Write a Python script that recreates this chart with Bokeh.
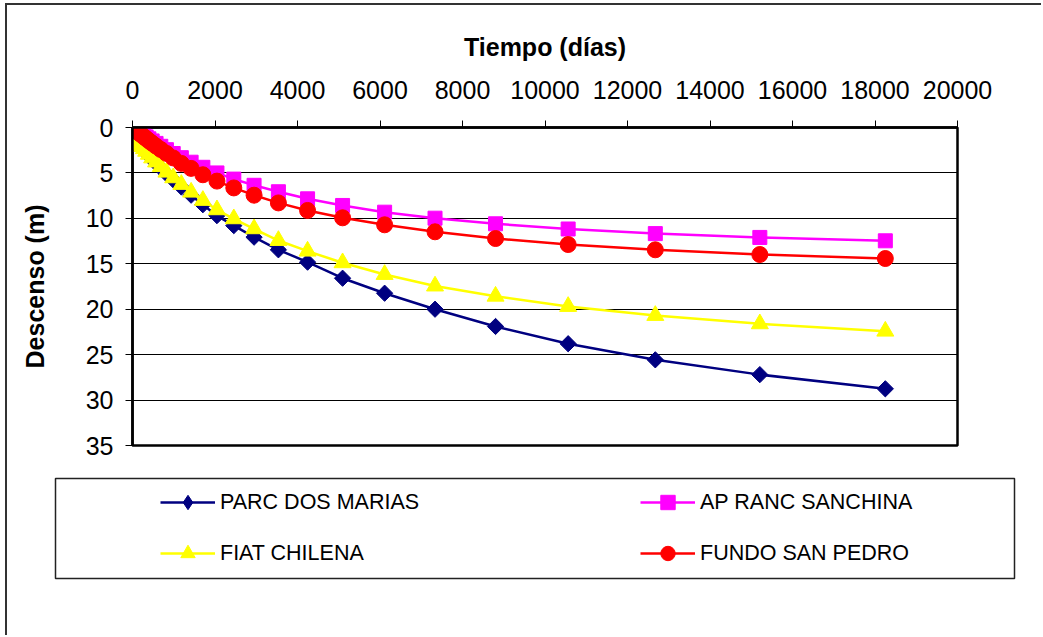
import numpy as np
from bokeh.plotting import figure
from bokeh.models import Range1d, FixedTicker, Legend, LegendItem
from bokeh.embed import file_html
from bokeh.resources import INLINE

# ---------------- data ----------------
tiempo = [5, 6, 7, 9, 10, 12, 15, 18, 21, 26, 31, 37, 45, 53, 64, 77, 92, 111, 133, 159,
          191, 230, 276, 331, 397, 476, 571, 686, 823, 987, 1184, 1421, 1706, 2047, 2456,
          2947, 3537, 4244, 5093, 6112, 7334, 8801, 10561, 12674, 15208, 18250]

parc_dos_marias = [1.30, 1.30, 1.30, 1.30, 1.31, 1.31, 1.32, 1.32, 1.33, 1.34, 1.35, 1.36,
                   1.38, 1.40, 1.43, 1.47, 1.52, 1.60, 1.69, 1.82, 1.98, 2.18, 2.43, 2.72,
                   3.06, 3.47, 3.94, 4.46, 5.10, 5.76, 6.55, 7.45, 8.50, 9.70, 10.80, 12.07,
                   13.46, 14.82, 16.59, 18.24, 20.00, 21.90, 23.80, 25.57, 27.20, 28.76]

ap_ranc_sanchina = [0.02, 0.02, 0.02, 0.02, 0.03, 0.03, 0.04, 0.05, 0.06, 0.08, 0.09, 0.11,
                    0.14, 0.16, 0.20, 0.24, 0.29, 0.35, 0.42, 0.50, 0.61, 0.73, 0.87, 1.04,
                    1.25, 1.48, 1.75, 2.07, 2.44, 2.86, 3.32, 3.82, 4.38, 5.00, 5.68, 6.36,
                    7.07, 7.85, 8.58, 9.32, 9.98, 10.60, 11.17, 11.68, 12.10, 12.47]

fiat_chilena = [1.25, 1.25, 1.25, 1.25, 1.26, 1.26, 1.27, 1.27, 1.28, 1.29, 1.30, 1.31,
                1.33, 1.35, 1.38, 1.42, 1.47, 1.54, 1.63, 1.75, 1.90, 2.10, 2.34, 2.62,
                2.95, 3.35, 3.80, 4.30, 4.92, 5.54, 6.27, 7.12, 8.03, 9.06, 10.05, 11.15,
                12.44, 13.61, 14.89, 16.18, 17.45, 18.57, 19.70, 20.69, 21.61, 22.42]

fundo_san_pedro = [0.02, 0.02, 0.02, 0.03, 0.03, 0.04, 0.05, 0.06, 0.07, 0.09, 0.11, 0.13,
                   0.16, 0.19, 0.23, 0.28, 0.34, 0.41, 0.49, 0.59, 0.71, 0.85, 1.02, 1.22,
                   1.46, 1.73, 2.05, 2.42, 2.85, 3.35, 3.95, 4.50, 5.20, 5.90, 6.65, 7.45,
                   8.30, 9.13, 9.94, 10.71, 11.48, 12.22, 12.88, 13.46, 13.98, 14.42]

series_names = ["PARC DOS MARIAS", "AP RANC SANCHINA", "FIAT CHILENA", "FUNDO SAN PEDRO"]
x_ticks = [0, 2000, 4000, 6000, 8000, 10000, 12000, 14000, 16000, 18000, 20000]
y_ticks = [0, 5, 10, 15, 20, 25, 30, 35]

# ---------------- layout constants ----------------
OX, OY = 7, 5            # content origin on the page (after outer frame)
W = 1043 - OX
H1 = 470 - OY
H2 = 637 - 470
FONT = "Liberation Sans"
FRAME = "2px solid #333333"

navy, mag, yel, red = "#000080", "#FF00FF", "#FFFF00", "#FF0000"
styles_ = [
    dict(color=navy, marker="square", angle=np.pi / 4, size=11.5),
    dict(color=mag, marker="square", angle=0.0, size=14),
    dict(color=yel, marker="triangle", angle=0.0, size=17),
    dict(color=red, marker="circle", angle=0.0, size=16),
]
series = [parc_dos_marias, ap_ranc_sanchina, fiat_chilena, fundo_san_pedro]

# ---------------- main chart ----------------
p = figure(width=W, height=H1,
           x_range=Range1d(0, 20000), y_range=Range1d(35, 0),
           x_axis_location="above",
           output_backend="svg", toolbar_location=None,
           min_border_left=132 - OX, min_border_right=W - (957 - OX),
           min_border_top=127 - OY, min_border_bottom=H1 - (445 - OY),
           styles={"border-top": FRAME, "border-left": FRAME,
                   "margin-top": "3px", "margin-left": "5px"})

p.background_fill_color = "white"
p.border_fill_color = "white"
p.outline_line_color = "black"
p.outline_line_width = 2.5

p.xgrid.visible = False
p.ygrid.ticker = FixedTicker(ticks=y_ticks)
p.ygrid.grid_line_color = "black"
p.ygrid.grid_line_width = 1

for ax, ticks in ((p.xaxis, x_ticks), (p.yaxis, y_ticks)):
    ax.ticker = FixedTicker(ticks=ticks)
    ax.major_tick_in = 0
    ax.major_tick_out = 7
    ax.minor_tick_line_color = None
    ax.major_tick_line_color = "black"
    ax.axis_line_color = "black"
    ax.axis_line_width = 2.5
    ax.major_label_text_font = FONT
    ax.major_label_text_font_size = "25px"
    ax.major_label_text_color = "black"
    ax.axis_label_text_font = FONT
    ax.axis_label_text_font_size = "25px"
    ax.axis_label_text_font_style = "bold"
    ax.axis_label_text_color = "black"

p.xaxis.axis_label = "Tiempo (días)"
p.xaxis.major_label_standoff = 22
p.xaxis.axis_label_standoff = 17
p.yaxis.axis_label = "Descenso (m)"
p.yaxis.major_label_standoff = 12
p.yaxis.axis_label_standoff = 34

for ys, st in zip(series, styles_):
    p.line(tiempo, ys, line_color=st["color"], line_width=2.5)
    p.scatter(tiempo, ys, marker=st["marker"], angle=st["angle"], size=st["size"],
              fill_color=st["color"], line_color=st["color"])

# ---------------- legend panel ----------------
p2 = figure(width=W, height=H2, x_range=Range1d(0, 1), y_range=Range1d(0, 1),
            x_axis_type=None, y_axis_type=None,
            output_backend="svg", toolbar_location=None,
            min_border_left=55 - OX, min_border_right=W - (1014 - OX),
            min_border_top=10, min_border_bottom=H2 - 110,
            styles={"border-left": FRAME, "margin-left": "5px"})
p2.grid.visible = False
p2.background_fill_color = "white"
p2.border_fill_color = "white"
p2.outline_line_color = "#222222"
p2.outline_line_width = 1.5

legend_marker = ["diamond", "square", "triangle", "circle"]
items = []
for name, ys, st, lm in zip(series_names, series, styles_, legend_marker):
    lr = p2.line(tiempo, ys, line_color=st["color"], line_width=2.5, visible=False)
    sr = p2.scatter(tiempo, ys, marker=lm,
                    fill_color=st["color"], line_color=st["color"], visible=False)
    items.append(LegendItem(label=name, renderers=[lr, sr]))

legend = Legend(items=items, location=(160 - 55, 7),
                orientation="horizontal", ncols=2,
                glyph_width=55, glyph_height=36, label_standoff=5, label_width=405,
                spacing=15, padding=0, margin=0,
                label_text_font=FONT, label_text_font_size="21.5px",
                label_text_color="black",
                border_line_color=None, background_fill_alpha=0)
p2.add_layout(legend, "center")

open("out.html", "w").write(file_html([p, p2], INLINE))
